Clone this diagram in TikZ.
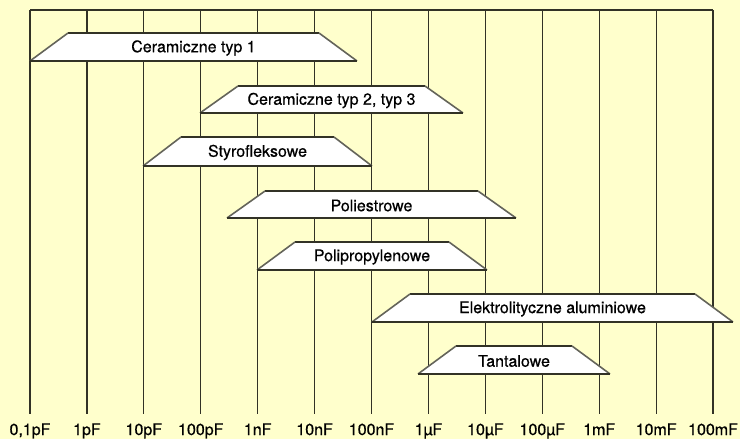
\documentclass[tikz,border=0pt]{standalone}
\usepackage{fontspec}
\setmainfont[FakeBold=0.6]{TeX Gyre Heros}
\definecolor{bg}{RGB}{255,255,204}
\definecolor{ink}{RGB}{50,50,38}
\definecolor{shade}{RGB}{100,100,90}
\newcommand\capband[6]{%
  \fill[white] (#2,#5) -- (#2+38,#4) -- (#3-38,#4) -- (#3,#5) -- cycle;
  \draw[bandtop] (#2+38,#4) -- (#3-38,#4);
  \draw[bandslant] (#2,#5) -- (#2+38,#4) (#3-38,#4) -- (#3,#5);
  \draw[bandbottom] (#2,#5) -- (#3,#5);
  \node[bandtext] (#1) at ({(#2+#3)/2},{(#4+#5)/2+1}) {#6};
}
\begin{document}
\begin{tikzpicture}[x=1pt,y=-1pt,
  gridline/.style={draw=ink,line width=1.2pt},
  bandtop/.style={draw=ink,line width=1.3pt},
  bandbottom/.style={draw=ink,line width=2.2pt},
  bandslant/.style={draw=shade,line width=1.6pt},
  bandtext/.style={font=\fontsize{16}{18}\selectfont,text=black,inner sep=0pt},
  axlabel/.style={font=\fontsize{16}{18}\selectfont,text=black,anchor=base,inner sep=0pt}]
\fill[bg] (0,0) rectangle (740,439);
\useasboundingbox (0,0) rectangle (740,439);
% grid
\draw[gridline] (30,10) -- (713,10);
\foreach \lab [count=\k from 0] in {{0,1pF},1pF,10pF,100pF,1nF,10nF,100nF,1µF,10µF,100µF,1mF,10mF,100mF}{
  \draw[gridline] ({30+56.92*\k},10) -- ({30+56.92*\k},414);
  \node[axlabel] (lab\k) at ({30+56.92*\k},435) {\lab};
}
% bands
\capband{cer1}{30}{357}{33}{61}{Ceramiczne typ 1}
\capband{cer23}{200}{463}{86}{113}{Ceramiczne typ 2, typ 3}
\capband{styro}{143}{372}{137}{166}{Styrofleksowe}
\capband{polies}{227}{516}{191}{218}{Poliestrowe}
\capband{polip}{257}{487}{242}{270}{Polipropylenowe}
\capband{elektro}{372}{733}{294}{322}{Elektrolityczne aluminiowe}
\capband{tantal}{418}{610}{346}{374}{Tantalowe}
\end{tikzpicture}
\end{document}
